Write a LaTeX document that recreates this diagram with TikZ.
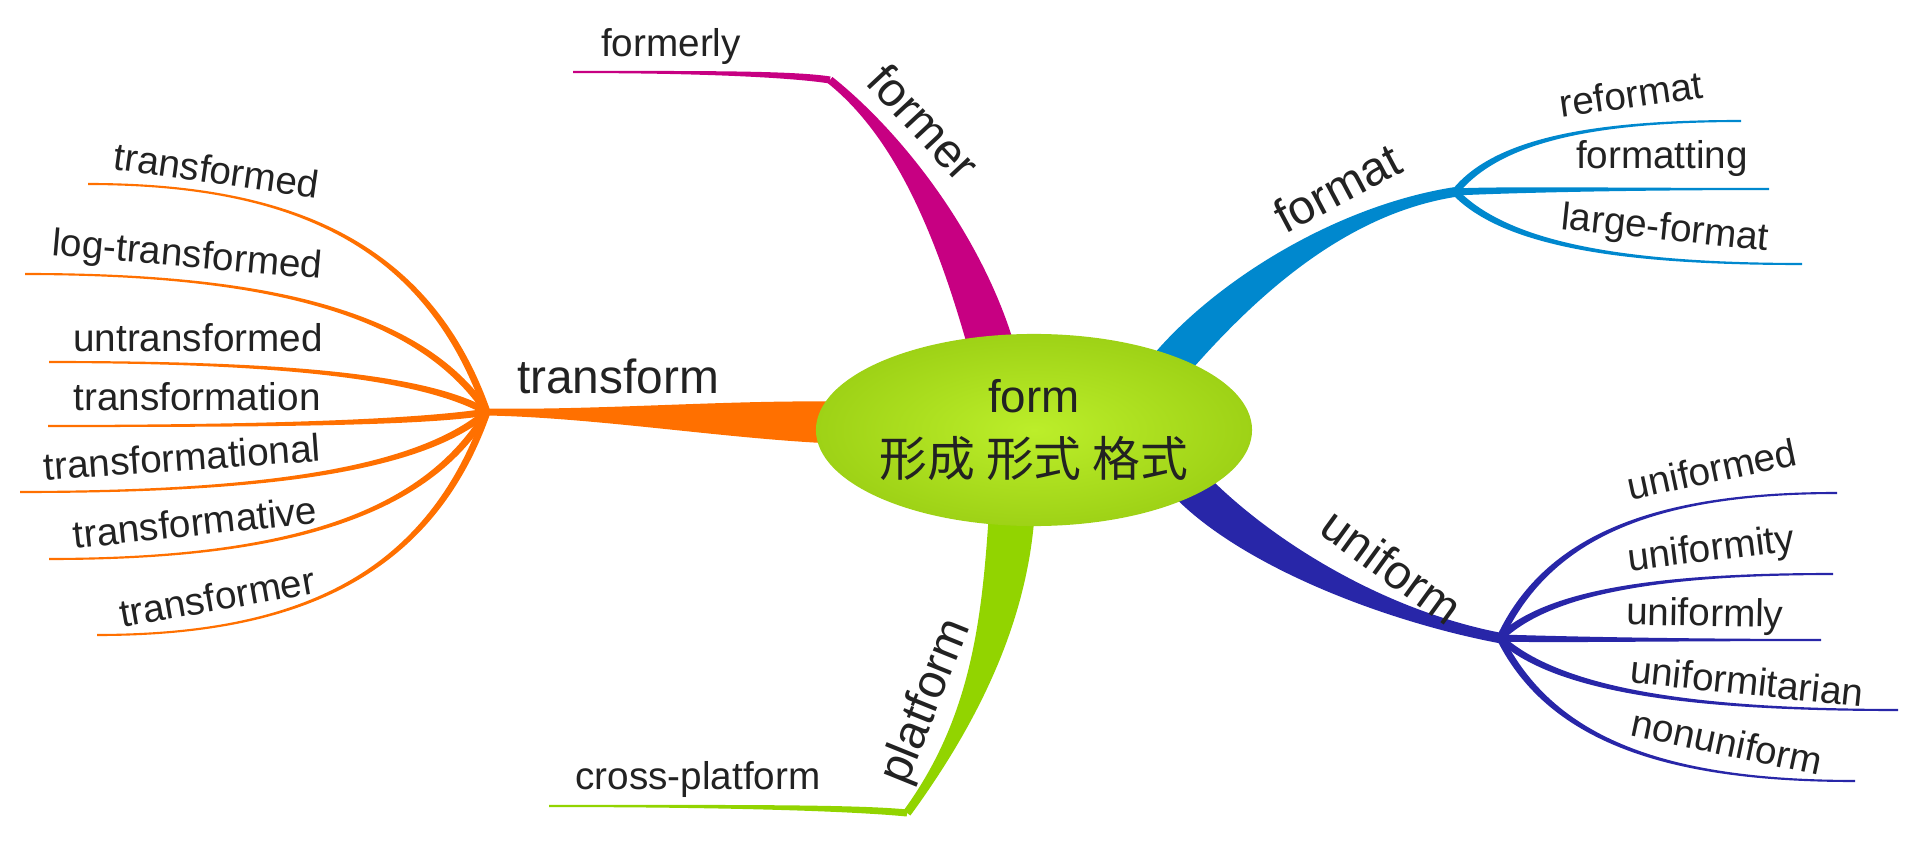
\documentclass[tikz,border=0pt]{standalone}
\usepackage{fontspec}
\setmainfont{Liberation Sans}
\newfontfamily\cjkfont{Noto Sans CJK SC}
\usetikzlibrary{calc, positioning, shapes.geometric}

\definecolor{hubgreen}{RGB}{188,238,42}
\definecolor{hubrim}{RGB}{158,210,22}
\definecolor{formerpink}{RGB}{199,0,130}
\definecolor{formatblue}{RGB}{0,136,206}
\definecolor{uniformnavy}{RGB}{40,38,168}
\definecolor{platgreen}{RGB}{146,212,0}
\definecolor{transorange}{RGB}{255,112,0}
\definecolor{ink}{RGB}{34,34,34}

% tapered branch: colour, start, control 1, control 2, end, half width at start, at end
\newcommand{\limb}[7]{%
  \fill[#1] ($(#2)!#6!90:(#3)$) .. controls ($(#3)!#6!-90:(#2)$) and ($(#4)!#7!90:(#5)$) .. ($(#5)!#7!-90:(#4)$)
    -- ($(#5)!#7!90:(#4)$) .. controls ($(#4)!#7!-90:(#5)$) and ($(#3)!#6!90:(#2)$) .. ($(#2)!#6!-90:(#3)$) -- cycle;}
% thin branch from a fork to its end
\newcommand{\twig}[3]{%
  \path let \p1=(#2), \p2=(#3) in
    ({\x1+0.15*(\x2-\x1)},{\y1+0.75*(\y2-\y1)}) coordinate (tw1)
    ({0.5*(\x1+\x2)},\y2) coordinate (tw2);
  \limb{#1}{#2}{tw1}{tw2}{#3}{1pt}{0.3pt}}

\begin{document}
\begin{tikzpicture}[x=0.01cm, y=-0.01cm,
    hub/.style={ellipse, minimum width=4.32cm, minimum height=1.92cm, inner sep=0pt,
      inner color=hubgreen, outer color=hubrim, align=center, text=ink,
      font=\fontsize{13}{18}\selectfont},
    bough/.style={text=ink, inner sep=0pt, font=\fontsize{13.6}{16}\selectfont},
    leaf/.style={text=ink, inner sep=0pt, font=\fontsize{11}{13}\selectfont}]
  \useasboundingbox (0,0) rectangle (1920,867);

  % roots (under the hub) and forks
  \coordinate (rtrans)  at (850,423);
  \coordinate (rformer) at (995,360);
  \coordinate (rformat) at (1170,365);
  \coordinate (runi)    at (1185,480);
  \coordinate (rplat)   at (1012,510);
  \coordinate (ftrans)  at (487,412);
  \coordinate (fformer) at (830,80);
  \coordinate (fformat) at (1455,192);
  \coordinate (funi)    at (1500,638);
  \coordinate (fplat)   at (907,813);

  \limb{transorange}{rtrans}{740,420}{600,414}{ftrans}{6pt}{1pt}
  \limb{formerpink}{rformer}{965,250}{905,140}{fformer}{6.5pt}{1.1pt}
  \limb{formatblue}{rformat}{1235,290}{1340,210}{fformat}{5.5pt}{1.4pt}
  \limb{uniformnavy}{runi}{1250,550}{1380,615}{funi}{5.5pt}{1.5pt}
  \limb{platgreen}{rplat}{1005,620}{975,720}{fplat}{6.5pt}{1.2pt}

  \node[hub] (hub) at (1034,430) {form\\{\cjkfont\fontsize{13.6}{18}\selectfont 形成 形式 格式}};

  \node[bough] (ltrans)  at (618,376) {transform};
  \node[bough, rotate=-47] (lformer) at (924,122) {former};
  \node[bough, rotate=28]  (lformat) at (1337,188) {format};
  \node[bough, rotate=-36] (luni)    at (1392,566) {uniform};
  \node[bough, rotate=68]  (lplat)   at (927,702) {platform};

  % transform
  \coordinate (t1) at (88,184);
  \coordinate (t2) at (25,274);
  \coordinate (t3) at (49,362);
  \coordinate (t4) at (48,426);
  \coordinate (t5) at (20,492);
  \coordinate (t6) at (49,559);
  \coordinate (t7) at (97,635);
  \twig{transorange}{ftrans}{t1}
  \twig{transorange}{ftrans}{t2}
  \twig{transorange}{ftrans}{t3}
  \twig{transorange}{ftrans}{t4}
  \twig{transorange}{ftrans}{t5}
  \twig{transorange}{ftrans}{t6}
  \twig{transorange}{ftrans}{t7}
  \node[leaf, rotate=-8] (lt1) at (217,170) {transformed};
  \node[leaf, rotate=-5] (lt2) at (187,257) {log-transformed};
  \node[leaf]            (lt3) at (198,338) {untransformed};
  \node[leaf]            (lt4) at (197,397) {transformation};
  \node[leaf, rotate=4]  (lt5) at (182,457) {transformational};
  \node[leaf, rotate=6]  (lt6) at (195,522) {transformative};
  \node[leaf, rotate=10] (lt7) at (217,597) {transformer};

  % former
  \coordinate (f1) at (573,72);
  \twig{formerpink}{fformer}{f1}
  \node[leaf] (lf1) at (671,47) {formerly};

  % format
  \coordinate (m1) at (1741,121);
  \coordinate (m2) at (1769,189);
  \coordinate (m3) at (1802,264);
  \twig{formatblue}{fformat}{m1}
  \twig{formatblue}{fformat}{m2}
  \twig{formatblue}{fformat}{m3}
  \node[leaf, rotate=8]  (lm1) at (1631,94)  {reformat};
  \node[leaf]            (lm2) at (1662,159) {formatting};
  \node[leaf, rotate=-6] (lm3) at (1665,230) {large-format};

  % uniform
  \coordinate (u1) at (1837,493);
  \coordinate (u2) at (1833,574);
  \coordinate (u3) at (1821,640);
  \coordinate (u4) at (1898,710);
  \coordinate (u5) at (1855,781);
  \twig{uniformnavy}{funi}{u1}
  \twig{uniformnavy}{funi}{u2}
  \twig{uniformnavy}{funi}{u3}
  \twig{uniformnavy}{funi}{u4}
  \twig{uniformnavy}{funi}{u5}
  \node[leaf, rotate=12]  (lu1) at (1712,469) {uniformed};
  \node[leaf, rotate=7]   (lu2) at (1711,551) {uniformity};
  \node[leaf, rotate=-1]  (lu3) at (1705,616) {uniformly};
  \node[leaf, rotate=-6]  (lu4) at (1747,681) {uniformitarian};
  \node[leaf, rotate=-12] (lu5) at (1727,742) {nonuniform};

  % platform
  \coordinate (p1) at (549,806);
  \twig{platgreen}{fplat}{p1}
  \node[leaf] (lp1) at (698,779) {cross-platform};
\end{tikzpicture}
\end{document}
